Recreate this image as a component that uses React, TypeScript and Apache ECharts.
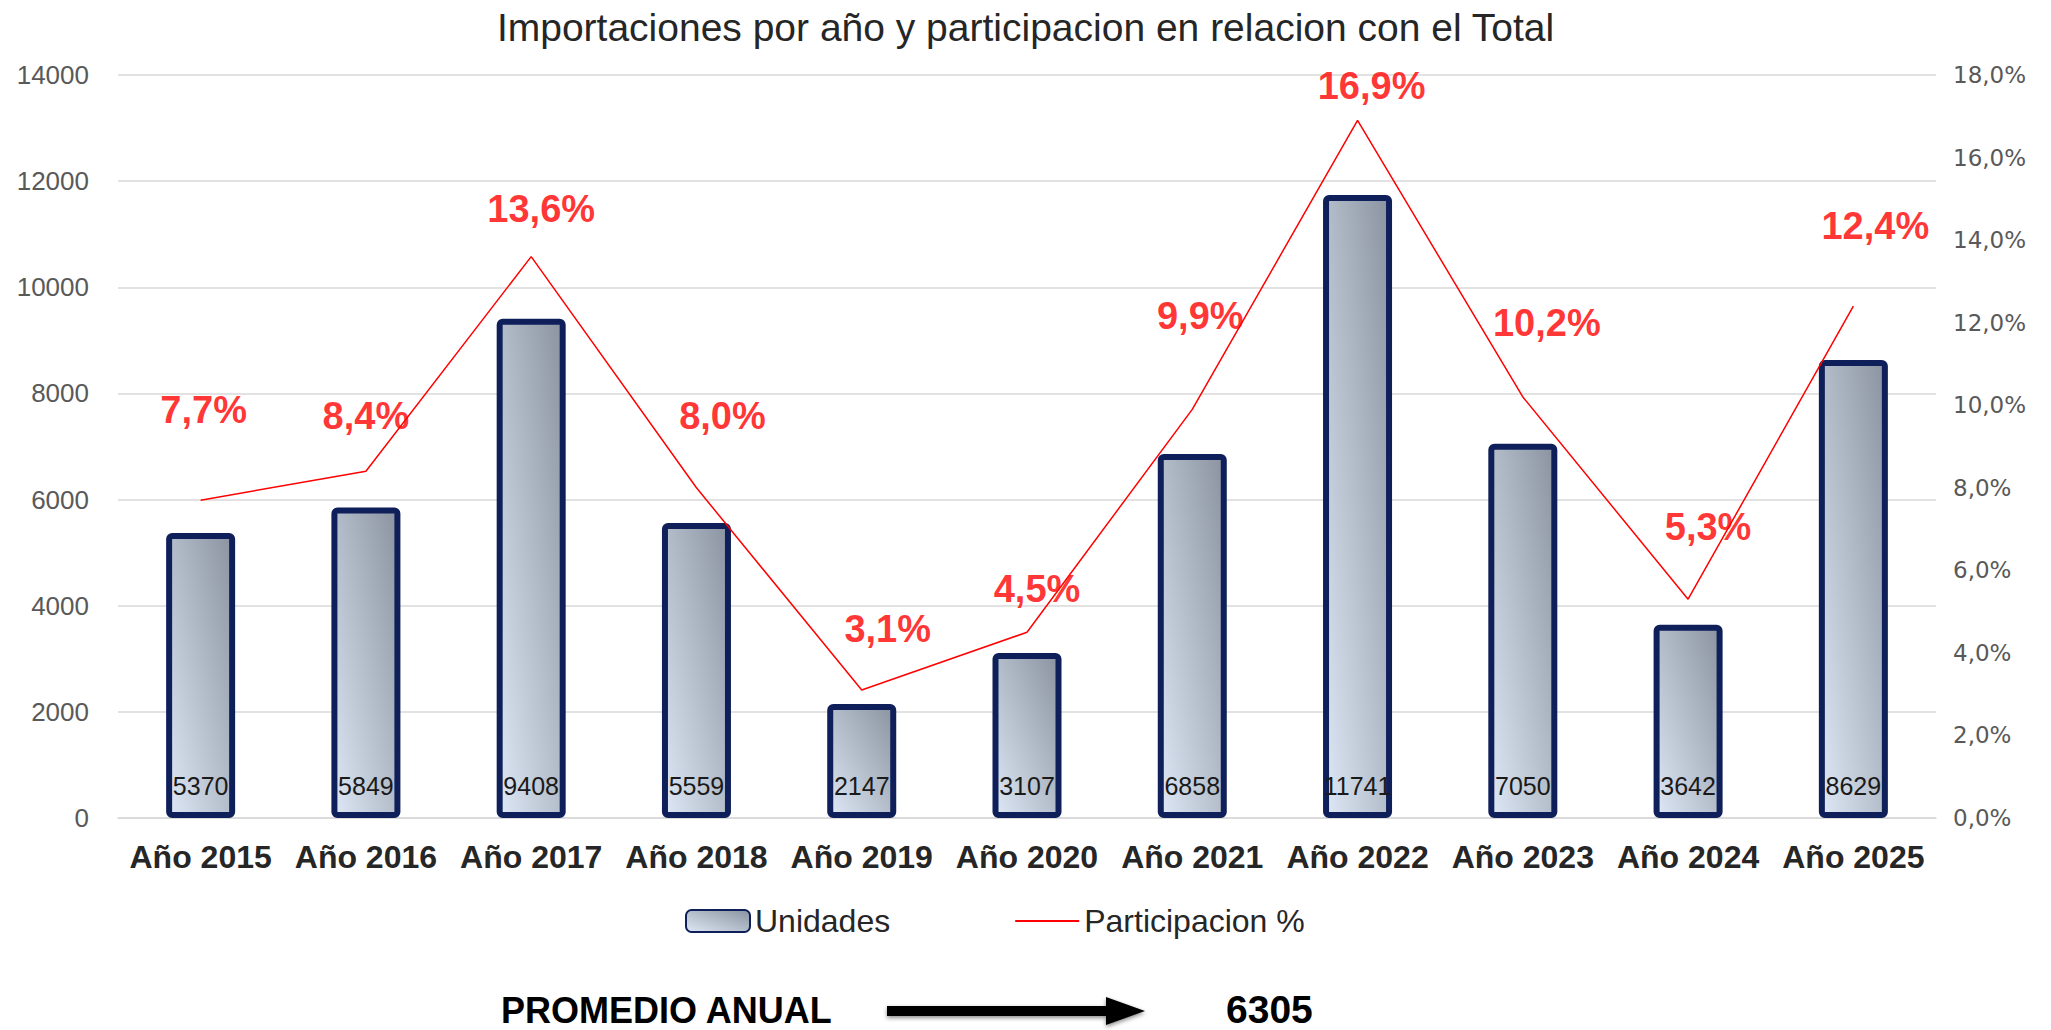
import React, { useEffect, useRef } from "react";
import * as echarts from "echarts";

const categories = [
  "Año 2015", "Año 2016", "Año 2017", "Año 2018", "Año 2019", "Año 2020",
  "Año 2021", "Año 2022", "Año 2023", "Año 2024", "Año 2025",
];
const unidades = [5370, 5849, 9408, 5559, 2147, 3107, 6858, 11741, 7050, 3642, 8629];
const participacion = [7.7, 8.4, 13.6, 8.0, 3.1, 4.5, 9.9, 16.9, 10.2, 5.3, 12.4];
const leftAxis = { min: 0, max: 14000, interval: 2000 };
const rightAxis = { min: 0, max: 18, interval: 2 };
const titleText = "Importaciones por año y participacion en relacion con el Total";
const promedioLabel = "PROMEDIO ANUAL";
// label centre offsets (px) relative to each line point
const pctLabelOffsets = [
  [3, -90], [0, -55], [10, -48], [26, -72], [26, -61], [10, -43],
  [8, -93], [14, -34], [24, -74], [20, -72], [22, -80],
];

const fmtPct = (v: number) => v.toFixed(1).replace(".", ",") + "%";

export default function App() {
  const ref = useRef<HTMLDivElement>(null);
  useEffect(() => {
    if (!ref.current) return;
    const chart = echarts.init(ref.current, undefined, { renderer: "svg" });
    const promedio = Math.round(unidades.reduce((a, b) => a + b, 0) / unidades.length);
    const font = "'Liberation Sans', Arial, sans-serif";
    chart.setOption({
      animation: false,
      backgroundColor: "#ffffff",
      textStyle: { fontFamily: font },
      title: {
        text: titleText,
        left: "center",
        top: 3,
        textStyle: { fontSize: 39, fontWeight: "normal", color: "#262626", fontFamily: font },
      },
      grid: { left: 118, right: 115, top: 75, bottom: 212 },
      legend: {
        left: 680,
        top: 900,
        itemWidth: 64,
        itemHeight: 22,
        itemGap: 124,
        textStyle: { fontSize: 32, color: "#262626", fontFamily: font },
        data: [
          { name: "Unidades" },
          {
            name: "Participacion %",
            itemStyle: { color: "rgba(0,0,0,0)", borderWidth: 0, opacity: 0 },
          },
        ],
      },
      xAxis: {
        type: "category",
        data: categories,
        axisTick: { show: false },
        axisLine: { lineStyle: { color: "#d9d9d9", width: 1.5 } },
        axisLabel: {
          interval: 0,
          fontSize: 32,
          fontWeight: "bold",
          color: "#262626",
          margin: 23,
          fontFamily: font,
        },
      },
      yAxis: [
        {
          type: "value",
          ...leftAxis,
          axisLabel: {
            fontSize: 26,
            color: "#595959",
            margin: 29,
            fontFamily: font,
            formatter: (v: number) => String(v),
          },
          splitLine: { lineStyle: { color: "#d9d9d9", width: 1.5 } },
          axisLine: { show: false },
          axisTick: { show: false },
        },
        {
          type: "value",
          ...rightAxis,
          position: "right",
          axisLabel: {
            fontSize: 23,
            color: "#595959",
            margin: 17,
            fontFamily: "'DejaVu Sans', Verdana, sans-serif",
            formatter: (v: number) => fmtPct(v),
          },
          splitLine: { show: false },
          axisLine: { show: false },
          axisTick: { show: false },
        },
      ],
      series: [
        {
          name: "Unidades",
          type: "bar",
          data: unidades,
          barWidth: 69,
          itemStyle: {
            color: new echarts.graphic.LinearGradient(0, 1, 1, 0, [
              { offset: 0, color: "#dde7f5" },
              { offset: 1, color: "#8a939f" },
            ]),
            borderColor: "#0f1f5a",
            borderWidth: 6,
            borderRadius: 3,
          },
          label: {
            show: true,
            position: "insideBottom",
            distance: 20,
            fontSize: 25,
            color: "#1a1a1a",
            fontFamily: font,
          },
        },
        {
          name: "Participacion %",
          type: "line",
          yAxisIndex: 1,
          data: participacion,
          symbol: "none",
          lineStyle: { color: "#ff0000", width: 1.5 },
          itemStyle: { color: "#ff0000" },
          z: 3,
        },
        {
          name: "pctLabels",
          type: "scatter",
          yAxisIndex: 1,
          symbolSize: 1,
          itemStyle: { color: "rgba(0,0,0,0)" },
          silent: true,
          z: 4,
          data: participacion.map((v, i) => ({
            value: v,
            label: { offset: pctLabelOffsets[i] },
          })),
          label: {
            show: true,
            position: "inside",
            fontSize: 38,
            fontWeight: "bold",
            color: "#ff0000",
            fontFamily: font,
            formatter: (p: any) => fmtPct(p.value),
          },
        },
      ],
      graphic: [
        {
          type: "text",
          left: 501,
          top: 992,
          style: {
            text: promedioLabel,
            font: `bold 36px ${font}`,
            fill: "#000000",
          },
        },
        {
          type: "polygon",
          shape: {
            points: [
              [887, 1006], [1106, 1006], [1106, 997], [1145, 1011],
              [1106, 1025], [1106, 1016], [887, 1016],
            ],
          },
          style: {
            fill: "#000000",
            shadowBlur: 4,
            shadowColor: "rgba(0,0,0,0.45)",
            shadowOffsetY: 2,
          },
        },
        {
          type: "text",
          left: 1226,
          top: 990,
          style: {
            text: String(promedio),
            font: `bold 39px ${font}`,
            fill: "#000000",
          },
        },
      ],
    });
    return () => chart.dispose();
  }, []);
  return (
    <div
      ref={ref}
      style={{ position: "fixed", left: 0, top: 0, width: 2051, height: 1030 }}
    />
  );
}
